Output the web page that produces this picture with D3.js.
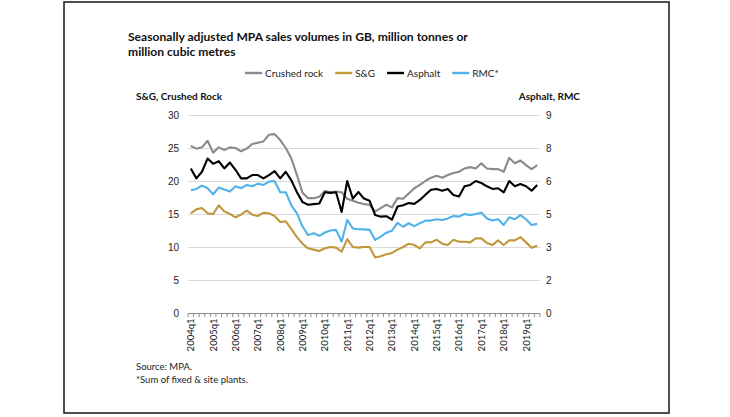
<!DOCTYPE html>
<html>
<head>
<meta charset="utf-8">
<script src="https://cdn.jsdelivr.net/npm/d3@7"></script>
<style>
  body { margin: 0; background: #fff; }
  svg { display: block; font-family: Lato, "Liberation Sans", sans-serif; }
</style>
</head>
<body>
<svg id="chart" width="730" height="417"></svg>
<script>
// quarters 2004q1 .. 2019q3
var quarters = d3.range(2004, 2020).flatMap(function (y) {
    return [1, 2, 3, 4].map(function (q) { return y + "q" + q; });
}).slice(0, 63);

// left axis: S&G, Crushed rock (million tonnes)
var crushedRock = [25.3, 24.9, 25.1, 26.1, 24.3, 25.1, 24.7, 25.1, 25.0, 24.5, 24.9, 25.6, 25.8, 26.0, 27.0, 27.1,
    26.2, 25.0, 23.4, 20.9, 18.2, 17.4, 17.4, 17.6, 18.5, 18.3, 18.4, 18.3, 17.3, 17.0, 16.7, 16.5,
    16.4, 15.4, 15.9, 16.4, 16.0, 17.4, 17.3, 18.1, 18.9, 19.4, 20.0, 20.5, 20.8, 20.5, 20.9, 21.2,
    21.4, 21.9, 22.1, 21.9, 22.7, 21.9, 21.8, 21.8, 21.4, 23.5, 22.7, 23.1, 22.4, 21.8, 22.4];
var sandGravel = [15.1, 15.7, 15.9, 15.1, 15.0, 16.3, 15.4, 15.0, 14.5, 14.9, 15.5, 14.9, 14.7, 15.2, 15.1, 14.7,
    13.8, 13.9, 12.7, 11.5, 10.5, 9.8, 9.6, 9.4, 9.8, 10.0, 9.9, 9.3, 11.2, 10.0, 9.9, 10.0,
    10.0, 8.4, 8.6, 8.9, 9.1, 9.6, 10.0, 10.5, 10.3, 9.8, 10.7, 10.7, 11.1, 10.5, 10.3, 11.1,
    10.8, 10.8, 10.7, 11.3, 11.3, 10.6, 10.3, 11.0, 10.3, 11.0, 11.0, 11.5, 10.7, 9.9, 10.2];

// right axis: Asphalt, RMC
var asphalt = [6.57, 6.12, 6.42, 7.02, 6.78, 6.90, 6.57, 6.84, 6.51, 6.12, 6.12, 6.27, 6.27, 6.12, 6.27, 6.45,
    6.12, 6.42, 6.03, 5.49, 5.04, 4.92, 4.95, 4.98, 5.49, 5.46, 5.49, 4.59, 6.00, 5.20, 5.50, 5.20,
    5.10, 4.45, 4.38, 4.40, 4.24, 4.84, 4.90, 5.00, 4.96, 5.14, 5.38, 5.60, 5.64, 5.56, 5.64, 5.36,
    5.30, 5.76, 5.82, 6.00, 5.91, 5.76, 5.64, 5.67, 5.48, 6.00, 5.76, 5.86, 5.76, 5.56, 5.82];
var rmc = [5.58, 5.64, 5.79, 5.67, 5.40, 5.70, 5.61, 5.52, 5.76, 5.67, 5.82, 5.76, 5.88, 5.82, 5.97, 6.00,
    5.49, 5.49, 4.89, 4.53, 3.93, 3.54, 3.63, 3.51, 3.66, 3.75, 3.78, 3.24, 4.23, 3.84, 3.81, 3.80,
    3.78, 3.32, 3.47, 3.65, 3.74, 4.10, 3.92, 4.08, 3.95, 4.08, 4.20, 4.20, 4.26, 4.23, 4.30, 4.41,
    4.38, 4.50, 4.45, 4.50, 4.56, 4.30, 4.20, 4.26, 4.00, 4.35, 4.26, 4.45, 4.26, 4.00, 4.05];

var leftTicks = [0, 5, 10, 15, 20, 25, 30];
var rightTicks = [0, 1.5, 3, 4.5, 6, 7.5, 9];

var series = [
    { name: "Crushed rock", values: crushedRock, axis: "left", color: "#8a8a8a" },
    { name: "S&G", values: sandGravel, axis: "left", color: "#c0973a" },
    { name: "Asphalt", values: asphalt, axis: "right", color: "#000000" },
    { name: "RMC*", values: rmc, axis: "right", color: "#4fb3ea" }
];

var svg = d3.select("#chart");
var plot = { left: 188, right: 540, top: 115, bottom: 313 };

svg.append("rect")
    .attr("x", 64).attr("y", 2).attr("width", 605).attr("height", 411)
    .attr("fill", "none").attr("stroke", "#222").attr("stroke-width", 1.6);

var x = d3.scaleBand().domain(quarters).range([plot.left, plot.right]).padding(0);
var yL = d3.scaleLinear().domain([0, 30]).range([plot.bottom, plot.top]);
var yR = d3.scaleLinear().domain([0, 9]).range([plot.bottom, plot.top]);

// title
var title = svg.append("text")
    .attr("x", 128).attr("y", 41)
    .style("font-size", "12.1px").style("font-weight", "bold").attr("fill", "#111");
title.append("tspan").attr("x", 128).text("Seasonally adjusted MPA sales volumes in GB, million tonnes or");
title.append("tspan").attr("x", 128).attr("dy", 15).text("million cubic metres");

// gridlines
svg.append("g").selectAll("line")
    .data(leftTicks.filter(function (d) { return d > 0; }))
    .enter().append("line")
    .attr("x1", plot.left).attr("x2", plot.right)
    .attr("y1", function (d) { return yL(d) + 0.5; })
    .attr("y2", function (d) { return yL(d) + 0.5; })
    .attr("stroke", "#d9d9d9").attr("stroke-width", 1.2);

// left / right axes (labels only)
var axisL = svg.append("g")
    .attr("transform", "translate(" + (plot.left - 9) + ",0)")
    .call(d3.axisLeft(yL).tickValues(leftTicks).tickSize(0).tickPadding(0));
var axisR = svg.append("g")
    .attr("transform", "translate(" + (plot.right + 6) + ",0)")
    .call(d3.axisRight(yR).tickValues(rightTicks).tickFormat(d3.format(".0f")).tickSize(0).tickPadding(0));
[axisL, axisR].forEach(function (a) {
    a.select(".domain").remove();
    a.selectAll("text").style("font-size", "10px").attr("fill", "#222").style("font-family", "inherit");
});

// bottom axis: ticks between categories, labels every year
var xAxis = svg.append("g").attr("transform", "translate(0," + (plot.bottom + 0.5) + ")");
xAxis.append("line")
    .attr("x1", plot.left).attr("x2", plot.right)
    .attr("stroke", "#8c8c8c").attr("stroke-width", 1);
xAxis.selectAll(".tk")
    .data(quarters.concat([null]))
    .enter().append("line")
    .attr("class", "tk")
    .attr("x1", function (d, i) { return plot.left + i * x.step(); })
    .attr("x2", function (d, i) { return plot.left + i * x.step(); })
    .attr("y1", 0).attr("y2", 3.5)
    .attr("stroke", "#8c8c8c").attr("stroke-width", 1);
xAxis.selectAll(".lbl")
    .data(quarters.filter(function (d) { return /q1$/.test(d); }))
    .enter().append("text")
    .attr("class", "lbl")
    .attr("transform", function (d) {
        return "translate(" + (x(d) + x.bandwidth() / 2 + 3.5) + ",5) rotate(-90)";
    })
    .attr("text-anchor", "end")
    .style("font-size", "9.5px").attr("fill", "#222")
    .text(function (d) { return d; });

// axis titles
svg.append("text").attr("x", 136).attr("y", 100)
    .style("font-size", "10px").style("font-weight", "bold").attr("fill", "#111")
    .text("S&G, Crushed Rock");
svg.append("text").attr("x", 580).attr("y", 100).attr("text-anchor", "end")
    .style("font-size", "10px").style("font-weight", "bold").attr("fill", "#111")
    .text("Asphalt, RMC");

// lines
var lineL = d3.line()
    .x(function (d, i) { return x(quarters[i]) + x.bandwidth() / 2; })
    .y(function (d) { return yL(d); });
var lineR = d3.line()
    .x(function (d, i) { return x(quarters[i]) + x.bandwidth() / 2; })
    .y(function (d) { return yR(d); });

svg.append("g").selectAll("path")
    .data(series)
    .enter().append("path")
    .attr("d", function (s) { return (s.axis === "left" ? lineL : lineR)(s.values); })
    .attr("fill", "none")
    .attr("stroke", function (s) { return s.color; })
    .attr("stroke-width", 2.1)
    .attr("stroke-linejoin", "round");

// legend
var legend = svg.append("g").attr("transform", "translate(0,73)");
var lx = 245;
series.forEach(function (s) {
    legend.append("line")
        .attr("x1", lx).attr("x2", lx + 17)
        .attr("stroke", s.color).attr("stroke-width", 2.4);
    var t = legend.append("text")
        .attr("x", lx + 20).attr("y", 3.5)
        .style("font-size", "10px").attr("fill", "#222")
        .text(s.name);
    lx += 20 + t.node().getComputedTextLength() + 12;
});

// notes
svg.append("text").attr("x", 136).attr("y", 370)
    .style("font-size", "9.5px").attr("fill", "#222").text("Source: MPA.");
svg.append("text").attr("x", 136).attr("y", 383)
    .style("font-size", "9.5px").attr("fill", "#222").text("*Sum of fixed & site plants.");
</script>
</body>
</html>
